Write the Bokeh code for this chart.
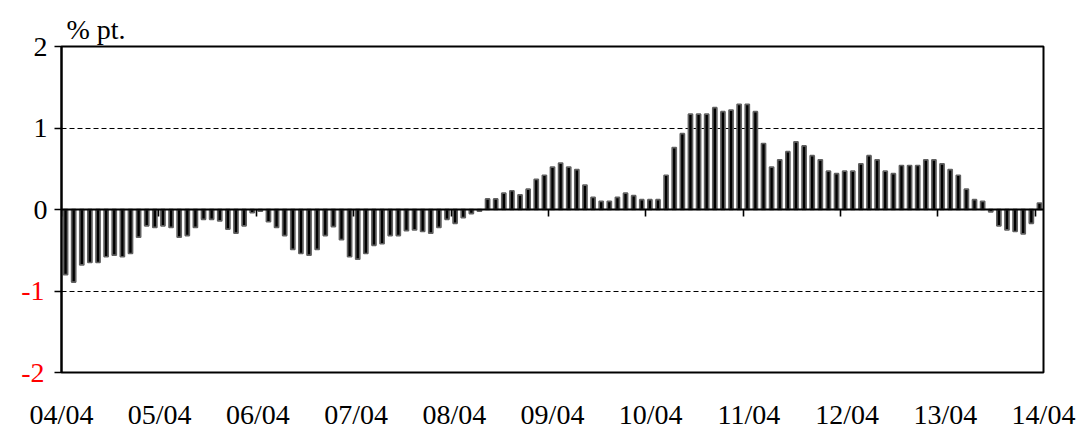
from bokeh.plotting import figure
from bokeh.models import Range1d, LinearAxis, FixedTicker, Title, ColumnDataSource
from bokeh.embed import file_html
from bokeh.resources import INLINE

# ---- data (monthly, 2004/04 .. 2014/04), % pt. ----
values = [
    -0.80, -0.89, -0.68, -0.65, -0.65, -0.58, -0.56, -0.58, -0.54, -0.34, -0.20, -0.22,
    -0.20, -0.22, -0.34, -0.32, -0.22, -0.12, -0.12, -0.14, -0.24, -0.29, -0.20, -0.04,
    -0.02, -0.15, -0.22, -0.32, -0.49, -0.54, -0.56, -0.49, -0.32, -0.21, -0.37, -0.58,
    -0.61, -0.54, -0.44, -0.42, -0.32, -0.32, -0.26, -0.25, -0.27, -0.29, -0.22, -0.12,
    -0.17, -0.10, -0.05, -0.02, 0.13, 0.13, 0.20, 0.23, 0.18, 0.25, 0.37, 0.42,
    0.52, 0.57, 0.52, 0.49, 0.30, 0.15, 0.10, 0.10, 0.15, 0.20, 0.17, 0.12,
    0.12, 0.12, 0.42, 0.76, 0.93, 1.17, 1.17, 1.17, 1.25, 1.20, 1.22, 1.29,
    1.29, 1.20, 0.81, 0.52, 0.61, 0.71, 0.83, 0.78, 0.66, 0.61, 0.47, 0.44,
    0.47, 0.47, 0.56, 0.66, 0.61, 0.47, 0.44, 0.54, 0.54, 0.54, 0.61, 0.61,
    0.56, 0.49, 0.42, 0.25, 0.12, 0.10, -0.03, -0.20, -0.25, -0.27, -0.30, -0.17,
    0.08,
]
month_index = list(range(len(values)))
year_labels = ["04/04", "05/04", "06/04", "07/04", "08/04", "09/04",
               "10/04", "11/04", "12/04", "13/04", "14/04"]
y_ticks = [-2, -1, 0, 1, 2]
y_black = {0: "0", 1: "1", 2: "2"}
y_red = {-2: "-2", -1: "-1"}
grid_levels = [-1, 1]

n = len(values)
x_centers = [i + 0.5 for i in month_index]
year_boundaries = list(range(0, n, 12))
label_pos = [n * k / (len(year_labels) - 1) for k in range(len(year_labels))]

FONT = "Liberation Serif"
FS = "28px"

p = figure(width=1080, height=432, x_range=Range1d(0, n), y_range=Range1d(-2, 2),
           output_backend="svg", toolbar_location=None,
           x_axis_location=None, y_axis_location=None,
           min_border_left=61, min_border_right=37, min_border_top=46, min_border_bottom=58)
p.background_fill_color = "white"
p.border_fill_color = "white"
p.outline_line_color = "black"
p.outline_line_width = 2

p.title = Title(text="% pt.", align="left", offset=5, standoff=3,
                text_font=FONT, text_font_size=FS, text_font_style="normal",
                text_color="black")

p.xgrid.visible = False
p.ygrid.ticker = FixedTicker(ticks=grid_levels)
p.ygrid.grid_line_color = "black"
p.ygrid.grid_line_dash = "5 3"
p.ygrid.grid_line_width = 1.2

src = ColumnDataSource(dict(x=x_centers, top=values))
p.vbar(x="x", top="top", bottom=0, width=0.5, source=src,
       fill_color="black", line_color="#606060", line_width=1.7)

# inner y axis: tick marks + black labels (negative labels blank)
ya = LinearAxis(ticker=FixedTicker(ticks=y_ticks))
ya.major_label_overrides = {**{k: "" for k in y_red}, **y_black}
ya.axis_line_color = "black"
ya.axis_line_width = 2
ya.major_tick_out = 7
ya.major_tick_in = 0
ya.major_tick_line_width = 1.5
ya.minor_tick_line_color = None
ya.major_label_standoff = 7
ya.major_label_text_font = FONT
ya.major_label_text_font_size = FS
ya.major_label_text_color = "black"
p.add_layout(ya, "left")

# outer y axis: red labels for negative values, pulled back onto the inner axis column
yr = LinearAxis(ticker=FixedTicker(ticks=y_ticks))
yr.major_label_overrides = {**{k: "" for k in y_black}, **y_red}
yr.axis_line_color = None
yr.major_tick_line_color = None
yr.major_tick_out = 0
yr.major_tick_in = 0
yr.minor_tick_line_color = None
yr.major_label_standoff = -14
yr.major_label_text_font = FONT
yr.major_label_text_font_size = FS
yr.major_label_text_color = "#FF0000"
p.add_layout(yr, "left")

# zero line with year ticks
za = LinearAxis(ticker=FixedTicker(ticks=year_boundaries), fixed_location=0)
za.axis_line_color = "black"
za.axis_line_width = 2
za.major_tick_out = 7
za.major_tick_in = 0
za.major_tick_line_width = 1.6
za.minor_tick_line_color = None
za.major_label_text_color = None
za.major_label_text_font_size = "1px"
p.add_layout(za, "below")

# year labels along the bottom
xa = LinearAxis(ticker=FixedTicker(ticks=label_pos))
xa.major_label_overrides = {pos: lab for pos, lab in zip(label_pos, year_labels)}
xa.axis_line_color = None
xa.major_tick_line_color = None
xa.major_tick_out = 0
xa.major_tick_in = 0
xa.minor_tick_line_color = None
xa.major_label_standoff = 26
xa.major_label_text_font = FONT
xa.major_label_text_font_size = FS
xa.major_label_text_color = "black"
p.add_layout(xa, "below")

open("out.html", "w").write(file_html(p, INLINE))
